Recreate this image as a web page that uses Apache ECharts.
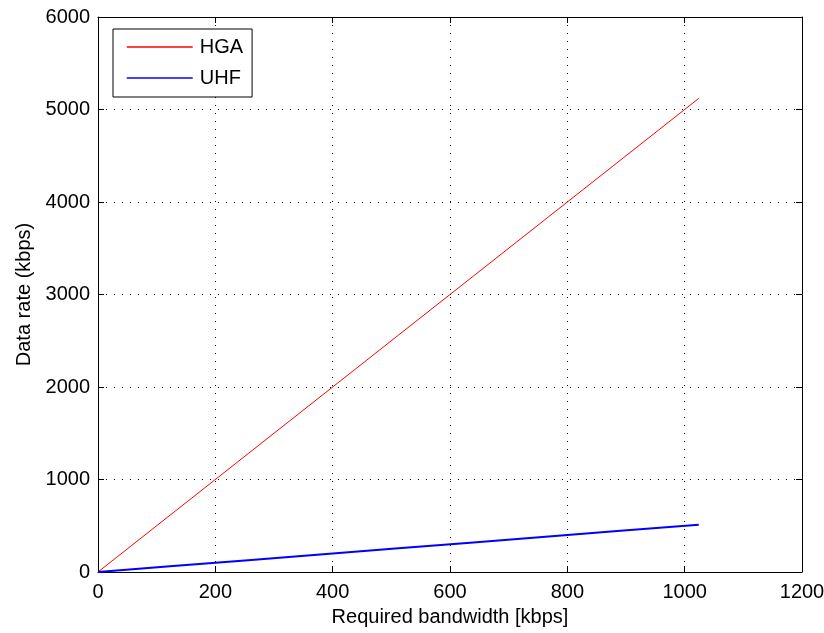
<!DOCTYPE html>
<html>
<head>
<meta charset="utf-8">
<script src="https://cdn.jsdelivr.net/npm/echarts@6/dist/echarts.min.js"></script>
<style>
html,body{margin:0;padding:0;background:#fff;}
#main{width:824px;height:633px;}
</style>
</head>
<body>
<div id="main"></div>
<script>
// Data
var bandwidth = [0, 128, 256, 384, 512, 640, 768, 896, 1024];
var hgaRate   = [0, 640, 1280, 1920, 2560, 3200, 3840, 4480, 5120];
var uhfRate   = [0, 64, 128, 192, 256, 320, 384, 448, 512];
var seriesNames = ['HGA', 'UHF'];
var xTitle = 'Required bandwidth [kbps]';
var yTitle = 'Data rate (kbps)';

var FONT = '"Liberation Sans", Arial, sans-serif';
var FS = 20;

function pairs(xs, ys) {
  return xs.map(function (x, i) { return [x, ys[i]]; });
}
function plain(v) { return String(v); }

var chart = echarts.init(document.getElementById('main'), null, {renderer: 'canvas'});

var gridLine = {show: true, lineStyle: {color: '#000', width: 1, type: [1, 7]}};
var tickIn = {show: true, inside: true, length: 6, lineStyle: {color: '#000', width: 1}};
var axLine = {show: true, onZero: false, lineStyle: {color: '#000', width: 1}};

chart.setOption({
  backgroundColor: '#fff',
  animation: false,
  textStyle: {fontFamily: FONT},
  grid: {left: 98, right: 22, top: 17, bottom: 61, containLabel: false, outerBoundsMode: 'none'},
  legend: {
    orient: 'vertical',
    left: 113,
    top: 29,
    data: seriesNames,
    backgroundColor: '#fff',
    borderColor: '#000',
    borderWidth: 1,
    padding: [8, 9, 9, 13],
    itemWidth: 66,
    itemHeight: 20,
    itemGap: 11,
    itemStyle: {opacity: 0},
    lineStyle: {width: 1.5},
    textStyle: {fontFamily: FONT, fontSize: FS, color: '#000', lineHeight: 20, padding: [0, 0, 0, 2]}
  },
  xAxis: [{
    type: 'value', min: 0, max: 1200, interval: 200, position: 'bottom',
    name: xTitle, nameLocation: 'middle', nameGap: 35,
    nameTextStyle: {fontFamily: FONT, fontSize: FS, color: '#000'},
    axisLine: axLine, axisTick: tickIn, splitLine: gridLine,
    axisLabel: {fontFamily: FONT, fontSize: FS, color: '#000', margin: 10, formatter: plain}
  }, {
    type: 'value', min: 0, max: 1200, interval: 200, position: 'top',
    axisLine: axLine, axisTick: tickIn, splitLine: {show: false}, axisLabel: {show: false}
  }],
  yAxis: [{
    type: 'value', min: 0, max: 6000, interval: 1000, position: 'left',
    name: yTitle, nameLocation: 'middle', nameGap: 59,
    nameTextStyle: {fontFamily: FONT, fontSize: FS, color: '#000'},
    axisLine: axLine, axisTick: tickIn, splitLine: gridLine,
    axisLabel: {fontFamily: FONT, fontSize: FS, color: '#000', margin: 8, formatter: plain}
  }, {
    type: 'value', min: 0, max: 6000, interval: 1000, position: 'right',
    axisLine: axLine, axisTick: tickIn, splitLine: {show: false}, axisLabel: {show: false}
  }],
  series: [{
    name: seriesNames[0], type: 'line', xAxisIndex: 0, yAxisIndex: 0,
    data: pairs(bandwidth, hgaRate), symbol: 'none',
    lineStyle: {color: '#ff0000', width: 1}, itemStyle: {color: '#ff0000'}, z: 3
  }, {
    name: seriesNames[1], type: 'line', xAxisIndex: 0, yAxisIndex: 0,
    data: pairs(bandwidth, uhfRate), symbol: 'none',
    lineStyle: {color: '#0000ff', width: 2}, itemStyle: {color: '#0000ff'}, z: 3
  }]
});
</script>
</body>
</html>
